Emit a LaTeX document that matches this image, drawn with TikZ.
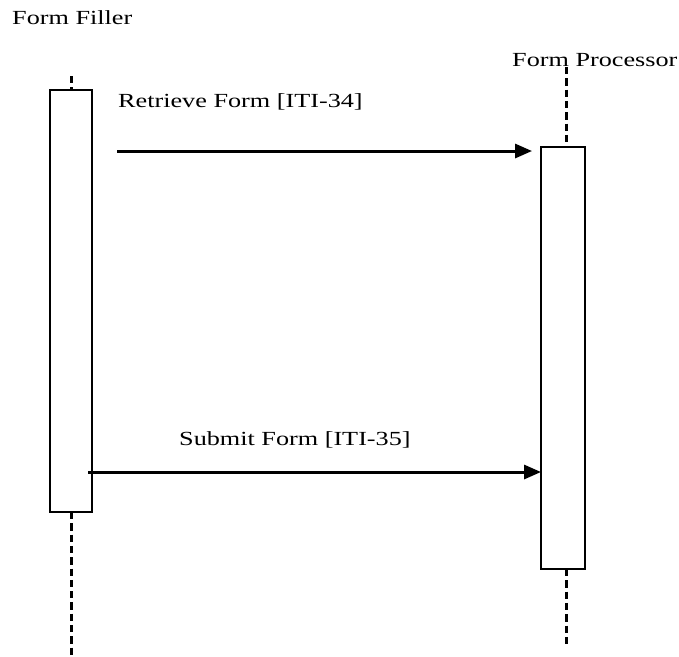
\documentclass[tikz,border=0pt]{standalone}
\usepackage{fontspec}
\setmainfont[FakeStretch=1.31]{Liberation Serif}
\usetikzlibrary{arrows.meta}
\begin{document}
\begin{tikzpicture}[x=1pt,y=-1pt,
  actbox/.style={draw,line width=1.9pt,fill=white,inner sep=0pt},
  lifeline/.style={line width=3pt,dash pattern=on 7.3pt off 4pt},
  msg/.style={line width=3pt,-{Triangle[length=17pt,width=14pt]}},
  lbl/.style={anchor=base west,inner sep=0pt,font=\fontsize{20}{24}\selectfont}]
\useasboundingbox (0,0) rectangle (679,656);
% labels
\node[lbl] (ffname) at (12,24) {Form Filler};
\node[lbl] (fpname) at (512,66) {Form Processor};
% lifelines
\coordinate (fftop) at (71,76);
\coordinate (ffbot) at (71,656);
\coordinate (fptop) at (566,67);
\coordinate (fpbot) at (566,645);
\draw[lifeline] (fftop) -- (71,512);
\draw[lifeline] (71,512) -- (ffbot);
\draw[lifeline] (fptop) -- (566,147);
\draw[lifeline] (566,569) -- (fpbot);
% activation boxes
\node[actbox,minimum width=42pt,minimum height=422pt] (ffbox) at (71,301) {};
\node[actbox,minimum width=44pt,minimum height=422pt] (fpbox) at (563,358) {};
% messages
\coordinate (r1) at (117,151);
\draw[msg] (r1) -- ([xshift=-8pt]fpbox.west |- r1);
\node[lbl] (rlbl) at (118,107) {Retrieve Form [ITI-34]};
\coordinate (s1) at (88,472);
\draw[msg] (s1) -- ([xshift=1pt]fpbox.west |- s1);
\node[lbl] (slbl) at (179,445) {Submit Form [ITI-35]};
\end{tikzpicture}
\end{document}
